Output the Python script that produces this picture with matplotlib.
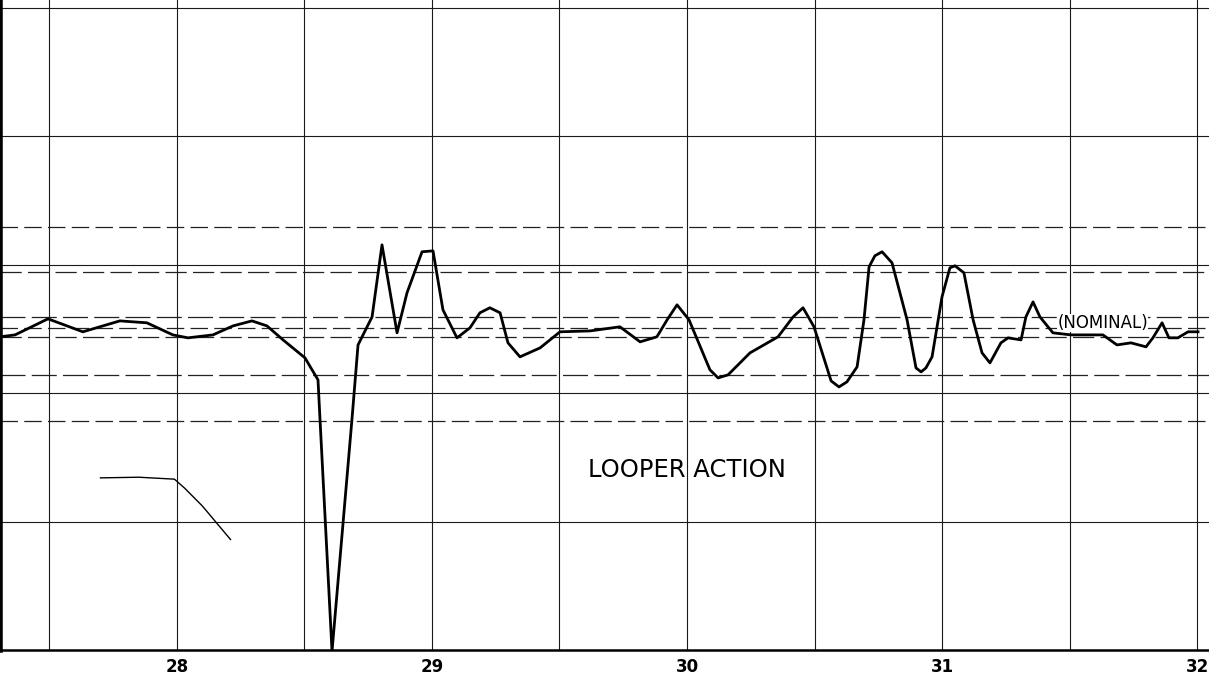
import numpy as np
import matplotlib
matplotlib.use("Agg")
import matplotlib.pyplot as plt

# --- trace (time, deflection in grid units) ---
trace_t = [27.306, 27.365, 27.494, 27.631, 27.776, 27.882, 27.984, 28.043, 28.141, 28.220,
           28.294, 28.353, 28.416, 28.502, 28.553, 28.561, 28.608, 28.686, 28.710, 28.765,
           28.804, 28.863, 28.902, 28.961, 29.004, 29.043, 29.098, 29.149, 29.188, 29.227,
           29.267, 29.298, 29.345, 29.424, 29.502, 29.620, 29.737, 29.816, 29.882, 29.922,
           29.961, 30.008, 30.090, 30.122, 30.161, 30.247, 30.357, 30.416, 30.455, 30.498,
           30.565, 30.596, 30.627, 30.667, 30.694, 30.714, 30.737, 30.765, 30.804, 30.863,
           30.898, 30.918, 30.937, 30.961, 31.000, 31.031, 31.051, 31.086, 31.122, 31.157,
           31.188, 31.231, 31.259, 31.310, 31.329, 31.357, 31.384, 31.435, 31.506, 31.631,
           31.686, 31.741, 31.800, 31.827, 31.863, 31.890, 31.925, 31.965, 32.004]
trace_y = [2.438, 2.453, 2.578, 2.477, 2.562, 2.547, 2.453, 2.430, 2.453, 2.523,
           2.562, 2.523, 2.414, 2.274, 2.103, 1.791, -0.01, 1.791, 2.375, 2.593,
           3.154, 2.469, 2.780, 3.100, 3.107, 2.648, 2.430, 2.508, 2.625, 2.664,
           2.625, 2.391, 2.282, 2.352, 2.477, 2.484, 2.516, 2.399, 2.438, 2.570,
           2.687, 2.570, 2.181, 2.118, 2.142, 2.313, 2.438, 2.593, 2.664, 2.516,
           2.095, 2.048, 2.087, 2.204, 2.570, 2.983, 3.069, 3.100, 3.014, 2.570,
           2.196, 2.165, 2.196, 2.282, 2.749, 2.975, 2.991, 2.936, 2.570, 2.313,
           2.235, 2.391, 2.430, 2.414, 2.593, 2.710, 2.593, 2.469, 2.453, 2.453,
           2.375, 2.391, 2.360, 2.430, 2.547, 2.430, 2.430, 2.477, 2.477]

# stray pen mark lower left
stray_t = [27.70, 27.85, 27.99, 28.03, 28.10, 28.21]
stray_y = [1.34, 1.345, 1.33, 1.26, 1.12, 0.86]

# limit / reference levels (dashed)
dashed_levels = [3.29, 2.94, 2.59, 2.51, 2.44, 2.14, 1.78]
solid_levels = [1, 2, 3, 4, 5]
xtick_vals = [28, 29, 30, 31, 32]
xtick_labels = ["28", "29", "30", "31", "32"]

fig = plt.figure(figsize=(12.09, 6.82), dpi=100)
ax = fig.add_axes([0, 32 / 682, 1, 650 / 682])
ax.set_xlim(27.306, 32.047)
ax.set_ylim(0, 5.06)

# chart paper grid
for xv in np.arange(27.5, 32.01, 0.5):
    ax.axvline(xv, color="#1a1a1a", lw=0.8, zorder=1)
for yv in solid_levels:
    ax.axhline(yv, color="#1a1a1a", lw=0.8, zorder=1)
for i, yv in enumerate(dashed_levels):
    ax.axhline(yv, color="#222222", lw=0.9, dashes=(14 + 3 * (i % 3), 5), zorder=1)

ax.plot(trace_t, trace_y, color="black", lw=2.0, solid_joinstyle="round", zorder=5)
ax.plot(stray_t, stray_y, color="black", lw=1.0, zorder=3)

ax.text(30.0, 1.40, "LOOPER ACTION", fontsize=17.5, ha="center", va="center",
        family=["DejaVu Sans"], zorder=4)
ax.text(31.63, 2.545, "(NOMINAL)", fontsize=12, ha="center", va="center",
        family=["DejaVu Sans"], zorder=4,
        bbox=dict(facecolor="white", edgecolor="none", pad=0.3))

ax.set_xticks(xtick_vals)
ax.set_xticklabels(xtick_labels, fontsize=12, fontweight="bold",
                   family=["Liberation Sans Narrow", "DejaVu Sans"])
ax.tick_params(axis="x", length=0, pad=6)
ax.set_yticks([])
for side in ["top", "right"]:
    ax.spines[side].set_visible(False)
ax.spines["bottom"].set_linewidth(1.8)
ax.spines["left"].set_linewidth(4)

fig.savefig("out.png", dpi=100)
